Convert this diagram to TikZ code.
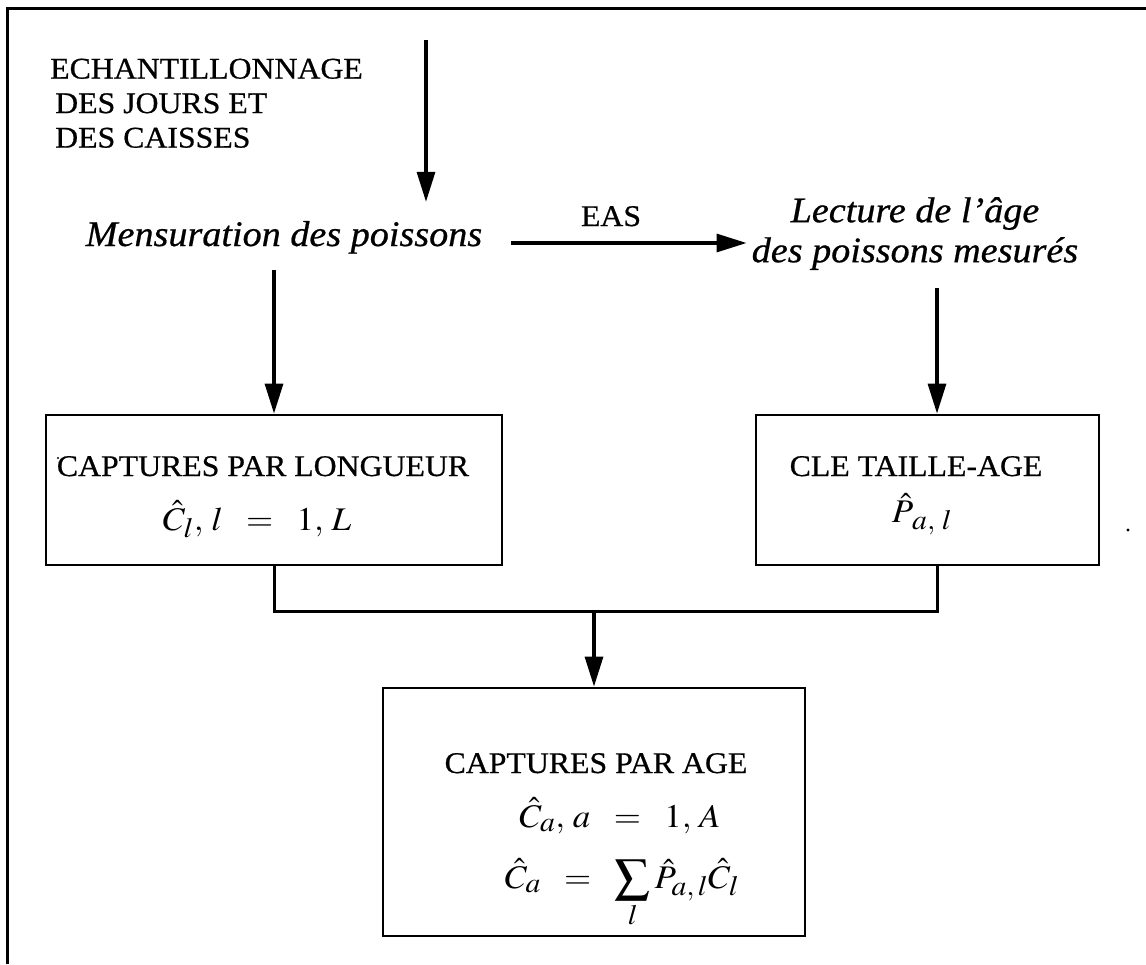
\documentclass[tikz,border=0pt]{standalone}
\usepackage{mathptmx}
\usepackage[no-math]{fontspec}
\setmainfont{Liberation Serif}[FakeStretch=1.06,FakeBold=0.6]
\usepackage{graphicx}
\usetikzlibrary{arrows.meta}
% large subscripts in the formulas
\DeclareMathSizes{33}{33}{28}{22}
% widen the math the same way as the text
\newcommand{\wmath}[1]{\scalebox{1.06}[1]{$#1$}}
\begin{document}
\begin{tikzpicture}[x=1pt,y=-1pt,
  rmtext/.style={inner sep=0pt, font=\fontsize{30}{34.5}\selectfont},
  ittext/.style={inner sep=0pt, font=\fontsize{36}{40}\selectfont\itshape},
  mathtext/.style={inner sep=0pt, font=\fontsize{33}{38}\selectfont},
  boxnode/.style={draw, line width=2.8pt, inner sep=0pt},
  wire/.style={line width=3pt},
  arr/.style={line width=3.2pt, -{Triangle[length=30pt,width=18pt]}},
  framing/.style={line width=3pt}]
\useasboundingbox (0,0) rectangle (1146,964);

% outer frame (top and left sides)
\draw[framing] (7,964) -- (7,8) -- (1146,8);

% top block of text
\node[rmtext, anchor=north west, align=left] (ech) at (50,58.5)
  {ECHANTILLONNAGE\\\hspace*{5pt}DES JOURS ET\\\hspace*{5pt}DES CAISSES};
\coordinate (src) at (426,40);

% sampling steps
\node[ittext, anchor=base] (mens) at (284,246) {Mensuration des poissons};
\node[ittext, anchor=north, align=center] (lect) at (915,197)
  {Lecture de l’âge\\des poissons mesurés};
\node[rmtext, anchor=base] (eas) at (611,226) {EAS};

% boxes
\node[boxnode, minimum width=456pt, minimum height=150pt] (lbox) at (274,490) {};
\node[boxnode, minimum width=343pt, minimum height=150pt] (cbox) at (927.5,490) {};
\node[boxnode, minimum width=422pt, minimum height=248pt] (bbox) at (594,812) {};

% box contents
\node[rmtext, anchor=base] (lbt) at (263,476) {CAPTURES PAR LONGUEUR};
\node[mathtext, anchor=base] (lbf) at (257,530) {\wmath{\hat{C}_l,\, l \;\;=\;\; 1,\, L}};
\node[rmtext, anchor=base] (cbt) at (916,476) {CLE TAILLE-AGE};
\node[mathtext, anchor=base] (cbf) at (922,522) {\wmath{\hat{P}_{\,a,\;l}}};
\node[rmtext, anchor=base] (bbt) at (596,773) {CAPTURES PAR AGE};
\node[mathtext, anchor=base] (bbf) at (620,827) {\wmath{\hat{C}_a,\, a \;\;=\;\; 1,\, A}};
\node[mathtext, anchor=base] (bbs) at (622,888)
  {\wmath{\displaystyle \hat{C}_a \;\;=\;\; \sum_{l}\hat{P}_{a,\,l}\hat{C}_l}};

% connectors
\coordinate (cin) at ([xshift=9.5pt]cbox.north);
\coordinate (cout) at ([xshift=9.5pt]cbox.south);
\coordinate (bus) at (0,611);
\draw[arr] (src) -- ([yshift=19pt]src |- mens.north);
\draw[arr] ([xshift=29pt,yshift=3pt]mens.base east) -- ([xshift=-5pt,yshift=3pt]lect.west |- mens.base);
\draw[arr] ([yshift=-16pt]mens.south -| lbox.north) -- (lbox.north);
\draw[arr] ([yshift=-18pt]lect.south -| cin) -- (cin);
\draw[wire] (lbox.south) |- (bus -| cout) -- (cout);
\draw[arr] (bus -| bbox.north) -- (bbox.north);

% specks
\fill (1128,530) circle (1.6pt);
\fill (58,458) circle (1.2pt);
\end{tikzpicture}
\end{document}
